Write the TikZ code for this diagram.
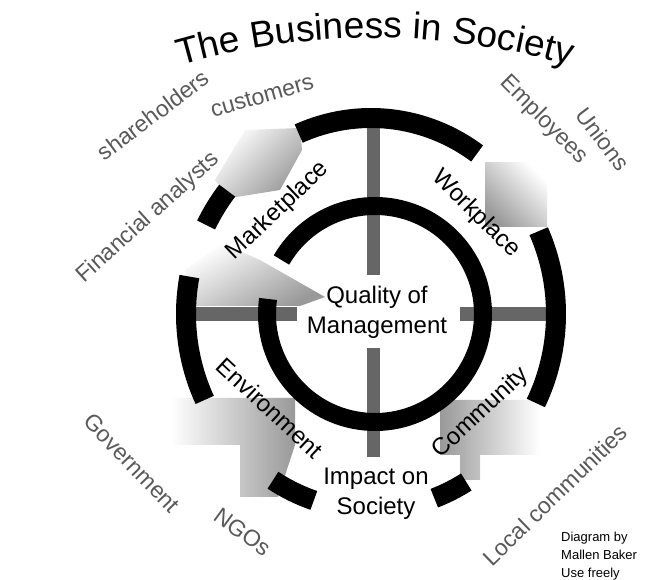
\documentclass[tikz,border=0pt]{standalone}
\usepackage{fontspec}
\setmainfont{Liberation Sans}
\usetikzlibrary{decorations.text}

\begin{document}
\begin{tikzpicture}[
    x=1pt, y=1pt,
    every node/.style={inner sep=0pt, align=center},
    zone/.style={font=\fontsize{24}{30}\selectfont},
    party/.style={font=\fontsize{23}{28}\selectfont, text=black!65},
    ring/.style={line width=18pt, black},
    band/.style={line width=20pt, black},
    bar/.style={fill=black!60},
    haze/.style={top color=white, bottom color=black!40}
  ]
  \useasboundingbox (0,0) rectangle (656,580);
  \coordinate (hub) at (375,266);
  \coordinate (rim) at (371,266);
  \coordinate (arch) at (375,-158);

  \shade[haze, shading angle=45] (245,450) -- (300,452) -- (302,430) -- (280,390) -- (230,382) -- (215,400) -- cycle;
  \shade[haze, shading angle=30] (222,337) -- (260,320) -- (325,283) -- (300,274) -- (190,274) -- (185,310) -- cycle;
  \shade[haze, shading angle=-45] (485,417) rectangle (547,353);
  \shade[haze, shading angle=90] (171,182) -- (295,182) -- (295,135) -- (278,83) -- (240,83) -- (240,135) -- (171,135) -- cycle;
  \shade[haze, shading angle=-90] (440,180) -- (540,180) -- (540,125) -- (480,125) -- (480,100) -- (460,100) -- (460,125) -- (440,125) -- cycle;

  \fill[bar] (367,453) rectangle (380,305);
  \fill[bar] (367,232) rectangle (380,123);
  \fill[bar] (188,273) rectangle (297,259);
  \fill[bar] (460,273) rectangle (563,259);

  \draw[ring] ([shift={(172:108)}]hub) arc[start angle=172, end angle=510, radius=108];

  \draw[band] ([shift={(55:185 and 196)}]rim) arc[start angle=55, end angle=113, x radius=185, y radius=196];
  \draw[band] ([shift={(141:185 and 196)}]rim) arc[start angle=141, end angle=153, x radius=185, y radius=196];
  \draw[band] ([shift={(169:185 and 196)}]rim) arc[start angle=169, end angle=206, x radius=185, y radius=196];
  \draw[band] ([shift={(238:185 and 196)}]rim) arc[start angle=238, end angle=252, x radius=185, y radius=196];
  \draw[band] ([shift={(290:185 and 196)}]rim) arc[start angle=290, end angle=301, x radius=185, y radius=196];
  \draw[band] ([shift={(-27:185 and 196)}]rim) arc[start angle=-27, end angle=25, x radius=185, y radius=196];

  \path[decorate, decoration={text along path, text align=center,
      text={|\fontsize{37}{40}\selectfont|The Business in Society}}]
    ([shift={(107:700)}]arch) arc[start angle=107, end angle=73, radius=700];

  \node[zone, rotate=43.5] (market) at (278,369) {Marketplace};
  \node[zone, rotate=-45] (work) at (476,366) {Workplace};
  \node[zone, rotate=-43] (environ) at (270,172) {Environment};
  \node[zone, rotate=43] (commun) at (481,167) {Community};
  \node[zone] (quality) at (377,268) {Quality of\\Management};
  \node[zone] (impact) at (376,86) {Impact on\\Society};

  \node[party, rotate=37] (holders) at (153,465) {shareholders};
  \node[party, rotate=16] (buyers) at (262,484) {customers};
  \node[party, rotate=42] (analysts) at (148,362) {Financial analysts};
  \node[party, rotate=-45] (staff) at (544,460) {Employees};
  \node[party, rotate=-53] (unions) at (603,441) {Unions};
  \node[party, rotate=-46] (govt) at (132,117) {Government};
  \node[party, rotate=-36] (ngos) at (243,48) {NGOs};
  \node[party, rotate=44] (locals) at (555,85) {Local communities};

  \node[anchor=north west, align=left, font=\fontsize{13}{18}\selectfont] (credit) at (561,48) {Diagram by\\Mallen Baker\\Use freely};
\end{tikzpicture}
\end{document}
